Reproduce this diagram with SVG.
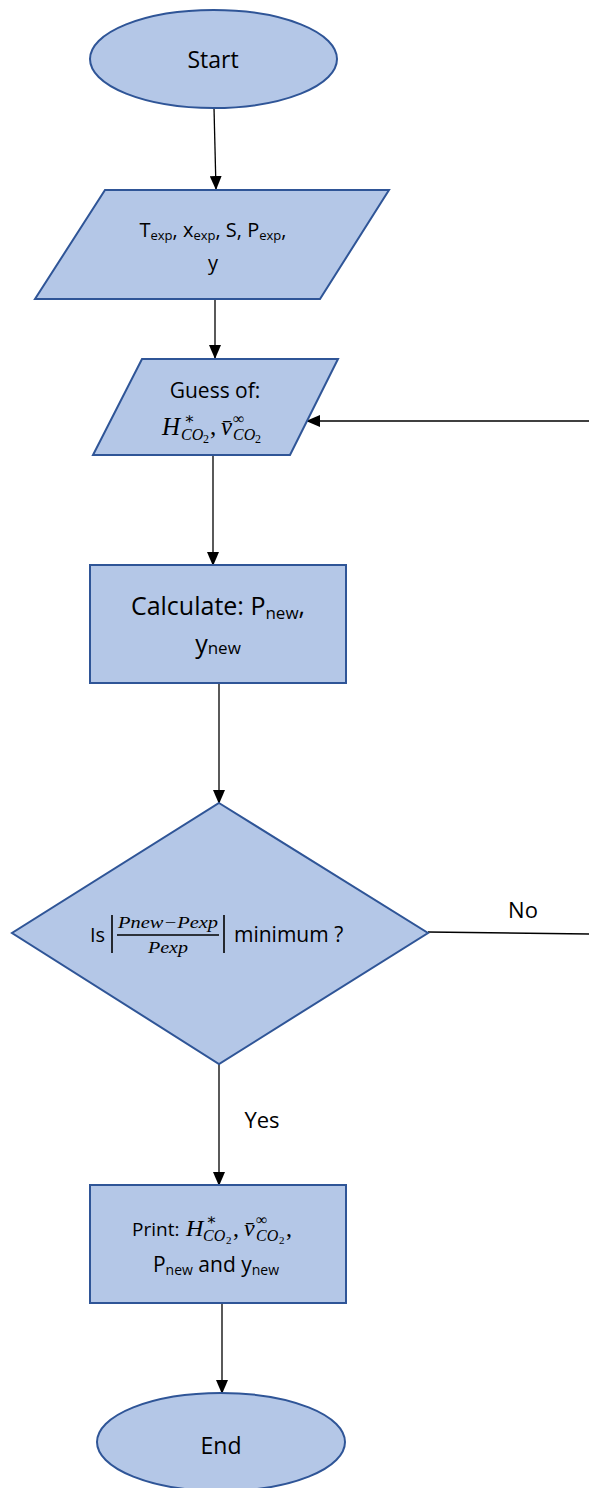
<svg xmlns="http://www.w3.org/2000/svg" width="589" height="1488" viewBox="0 0 589 1488">
<defs>
<marker id="ah" markerWidth="14" markerHeight="12" refX="13" refY="6" orient="auto" markerUnits="userSpaceOnUse">
<path d="M0,0 L14,6 L0,12 Z" fill="#000"/>
</marker>
<style>
.shape{fill:#B4C7E7;stroke:#2F5597;stroke-width:2}
.conn{stroke:#000;stroke-width:1.3;fill:none}
.t{font-family:"Open Sans","Liberation Sans",sans-serif;fill:#000}
.m{font-family:"Liberation Serif","DejaVu Serif",serif;font-style:italic;fill:#000}
.u{font-family:"Liberation Serif","DejaVu Serif",serif;fill:#000}
</style>
</defs>
<rect width="589" height="1488" fill="#fff"/>
<g id="connectors">
<line class="conn" x1="214" y1="108" x2="216" y2="189" marker-end="url(#ah)"/>
<line class="conn" x1="215" y1="299" x2="215" y2="358" marker-end="url(#ah)"/>
<line class="conn" x1="589" y1="421" x2="307" y2="421" marker-end="url(#ah)"/>
<line class="conn" x1="213" y1="455" x2="213" y2="565" marker-end="url(#ah)"/>
<line class="conn" x1="219" y1="683" x2="219" y2="803" marker-end="url(#ah)"/>
<line class="conn" x1="428" y1="932" x2="589" y2="934"/>
<line class="conn" x1="219" y1="1064" x2="219" y2="1185" marker-end="url(#ah)"/>
<line class="conn" x1="222" y1="1303" x2="222" y2="1393" marker-end="url(#ah)"/>
<text class="t" x="523" y="918" font-size="22" text-anchor="middle">No</text>
<text class="t" x="262" y="1128" font-size="22" text-anchor="middle">Yes</text>
</g>
<g id="start">
<ellipse class="shape" cx="213.5" cy="59" rx="123.5" ry="49"/>
<text class="t" x="213" y="68" font-size="23" text-anchor="middle">Start</text>
</g>
<g id="input">
<polygon class="shape" points="105,190 389,190 320,299 35,299"/>
<text class="t" x="213" y="237" font-size="20" text-anchor="middle">T<tspan font-size="13" dy="3">exp</tspan><tspan dy="-3">, x</tspan><tspan font-size="13" dy="3">exp</tspan><tspan dy="-3">, S, P</tspan><tspan font-size="13" dy="3">exp</tspan><tspan dy="-3">,</tspan></text>
<text class="t" x="213" y="270" font-size="20" text-anchor="middle">y</text>
</g>
<g id="guess">
<polygon class="shape" points="142,359 338,359 290,455 93,455"/>
<text class="t" x="215" y="398" font-size="21" text-anchor="middle">Guess of:</text>
<text class="m" x="162" y="435" font-size="25">H</text>
<text class="u" x="184" y="424" font-size="16">∗</text>
<text class="m" x="181" y="440" font-size="16">CO</text>
<text class="u" x="203" y="443" font-size="12">2</text>
<text class="u" x="210" y="435" font-size="25">,</text>
<text class="m" x="221" y="435" font-size="25">v̄</text>
<text class="u" x="233" y="424" font-size="16">∞</text>
<text class="m" x="233" y="440" font-size="16">CO</text>
<text class="u" x="255" y="443" font-size="12">2</text>
</g>
<g id="calculate">
<rect class="shape" x="90" y="565" width="256" height="118"/>
<text class="t" x="218" y="615" font-size="25" text-anchor="middle">Calculate: P<tspan font-size="17" dy="4">new</tspan><tspan dy="-4">,</tspan></text>
<text class="t" x="218" y="653" font-size="25" text-anchor="middle">y<tspan font-size="17" dy="1">new</tspan></text>
</g>
<g id="decision">
<polygon class="shape" points="219,803 428,933 219,1064 12,933"/>
<text class="t" x="90" y="942" font-size="20">Is</text>
<line x1="112" y1="915" x2="112" y2="953" stroke="#000" stroke-width="1.6"/>
<line x1="224" y1="915" x2="224" y2="953" stroke="#000" stroke-width="1.6"/>
<line x1="117" y1="935" x2="219" y2="935" stroke="#000" stroke-width="1.5"/>
<text class="m" x="118" y="928" font-size="16" textLength="100" lengthAdjust="spacingAndGlyphs">Pnew−Pexp</text>
<text class="m" x="168" y="953" font-size="16" text-anchor="middle" textLength="40" lengthAdjust="spacingAndGlyphs">Pexp</text>
<text class="t" x="234" y="942" font-size="21">minimum ?</text>
</g>
<g id="print">
<rect class="shape" x="90" y="1185" width="256" height="118"/>
<text class="t" x="132" y="1236" font-size="19">Print:</text>
<text class="m" x="186" y="1236" font-size="24">H</text>
<text class="u" x="206" y="1225" font-size="16">∗</text>
<text class="m" x="203" y="1241" font-size="16">CO</text>
<text class="u" x="226" y="1244" font-size="11">2</text>
<text class="u" x="233" y="1236" font-size="24">,</text>
<text class="m" x="244" y="1236" font-size="24">v̄</text>
<text class="u" x="256" y="1225" font-size="16">∞</text>
<text class="m" x="256" y="1241" font-size="16">CO</text>
<text class="u" x="279" y="1244" font-size="11">2</text>
<text class="u" x="286" y="1236" font-size="24">,</text>
<text class="t" x="216" y="1272" font-size="21" text-anchor="middle">P<tspan font-size="14" dy="3">new</tspan><tspan dy="-3"> and y</tspan><tspan font-size="14" dy="3">new</tspan></text>
</g>
<g id="end">
<ellipse class="shape" cx="221" cy="1442" rx="124" ry="49"/>
<text class="t" x="221" y="1454" font-size="23" text-anchor="middle">End</text>
</g>
</svg>
